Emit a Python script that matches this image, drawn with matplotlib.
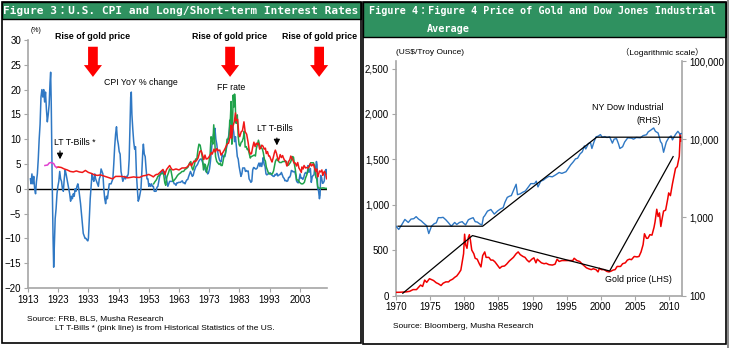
import matplotlib
matplotlib.use("Agg")
import matplotlib.pyplot as plt
from matplotlib.patches import Rectangle, FancyArrowPatch
from matplotlib.ticker import FuncFormatter, FixedLocator, NullLocator

W, H = 729, 348
NARROW = ['Liberation Sans Narrow', 'Liberation Sans', 'DejaVu Sans']
MONO = ['DejaVu Sans Mono', 'Noto Sans CJK JP']
plt.rcParams['font.family'] = NARROW

# ---------------- Figure 3 data ----------------
cpi_years = [1913.8, 1914.0, 1914.3, 1914.6, 1914.9, 1915.2, 1915.5, 1915.8, 1916.1, 1916.4, 1916.7, 1917.0, 1917.3,
             1917.6, 1917.9, 1918.2, 1918.5, 1918.8, 1919.1, 1919.4, 1919.7, 1920.0, 1920.3, 1920.5, 1920.7, 1921.0,
             1921.3, 1921.5, 1921.8, 1922.0, 1922.3, 1922.6, 1922.9, 1923.2, 1923.5, 1923.8, 1924.1, 1924.4, 1924.7,
             1925.0, 1925.3, 1925.6, 1925.9, 1926.2, 1926.5, 1926.8, 1927.1, 1927.4, 1927.7, 1928.0, 1928.3, 1928.6,
             1928.9, 1929.2, 1929.5, 1929.8, 1930.1, 1930.4, 1930.7, 1931.0, 1931.3, 1931.6, 1931.9, 1932.2, 1932.5,
             1932.8, 1933.0, 1933.3, 1933.6, 1933.9, 1934.2, 1934.5, 1934.8, 1935.1, 1935.4, 1935.7, 1936.0, 1936.3,
             1936.6, 1936.9, 1937.2, 1937.5, 1937.8, 1938.1, 1938.4, 1938.7, 1939.0, 1939.3, 1939.6, 1939.9, 1940.2,
             1940.5, 1940.8, 1941.1, 1941.4, 1941.7, 1942.0, 1942.3, 1942.6, 1942.9, 1943.2, 1943.5, 1943.8, 1944.1,
             1944.4, 1944.7, 1945.0, 1945.3, 1945.6, 1945.9, 1946.2, 1946.5, 1946.8, 1947.0, 1947.2, 1947.4, 1947.7,
             1948.0, 1948.3, 1948.6, 1948.9, 1949.2, 1949.5, 1949.8, 1950.1, 1950.4, 1950.7, 1951.0, 1951.2, 1951.5,
             1951.8, 1952.1, 1952.4, 1952.7, 1953.0, 1953.3, 1953.6, 1953.9, 1954.2, 1954.5, 1954.8, 1955.1, 1955.4,
             1955.7, 1956.0, 1956.3, 1956.6, 1956.9, 1957.2, 1957.5, 1957.8, 1958.1, 1958.4, 1958.7, 1959.0, 1959.3,
             1959.6, 1959.9, 1960.2, 1960.5, 1960.8, 1961.1, 1961.4, 1961.7, 1962.0, 1962.3, 1962.6, 1962.9, 1963.2,
             1963.5, 1963.8, 1964.1, 1964.4, 1964.7, 1965.0, 1965.3, 1965.6, 1965.9, 1966.2, 1966.5, 1966.8, 1967.1,
             1967.4, 1967.7, 1968.0, 1968.3, 1968.6, 1968.9, 1969.2, 1969.5, 1969.8, 1970.1, 1970.4, 1970.7, 1971.0,
             1971.3, 1971.6, 1971.9, 1972.2, 1972.5, 1972.8, 1973.1, 1973.4, 1973.7, 1974.0, 1974.3, 1974.6, 1974.9,
             1975.2, 1975.5, 1975.8, 1976.1, 1976.4, 1976.7, 1977.0, 1977.3, 1977.6, 1977.9, 1978.2, 1978.5, 1978.8,
             1979.1, 1979.4, 1979.7, 1980.0, 1980.25, 1980.5, 1980.8, 1981.1, 1981.4, 1981.7, 1982.0, 1982.3, 1982.6,
             1982.9, 1983.2, 1983.5, 1983.8, 1984.1, 1984.4, 1984.7, 1985.0, 1985.3, 1985.6, 1985.9, 1986.2, 1986.5,
             1986.8, 1987.1, 1987.4, 1987.7, 1988.0, 1988.3, 1988.6, 1988.9, 1989.2, 1989.5, 1989.8, 1990.1, 1990.4,
             1990.7, 1990.9, 1991.2, 1991.5, 1991.8, 1992.1, 1992.4, 1992.7, 1993.0, 1993.3, 1993.6, 1993.9, 1994.2,
             1994.5, 1994.8, 1995.1, 1995.4, 1995.7, 1996.0, 1996.3, 1996.6, 1996.9, 1997.2, 1997.5, 1997.8, 1998.1,
             1998.4, 1998.7, 1999.0, 1999.3, 1999.6, 1999.9, 2000.2, 2000.5, 2000.8, 2001.1, 2001.4, 2001.7, 2001.9,
             2002.2, 2002.5, 2002.8, 2003.1, 2003.4, 2003.7, 2004.0, 2004.3, 2004.6, 2004.9, 2005.2, 2005.5, 2005.75,
             2005.9, 2006.2, 2006.5, 2006.8, 2007.1, 2007.4, 2007.7, 2007.9, 2008.2, 2008.5, 2008.7, 2008.9, 2009.2,
             2009.5, 2009.7, 2009.9, 2010.2, 2010.5, 2010.8, 2011.1, 2011.4, 2011.7, 2011.9, 2012.2]
cpi_vals = [2.0, 1.0, 3.0, 1.0, 2.5, 0.0, -1.0, 1.5, 3.0, 6.0, 10.0, 13.0, 18.5,
            20.0, 18.5, 20.0, 17.5, 19.5, 16.0, 13.5, 15.0, 17.0, 21.5, 23.5, 17.0, 2.0,
            -10.0, -15.8, -10.0, -6.0, -4.0, -1.0, 0.5, 1.5, 3.5, 2.0, 1.5, 0.0, -0.5,
            2.0, 3.8, 3.0, 2.0, 1.0, 0.0, -1.0, -2.5, -1.5, -2.0, -1.0, -1.5, 0.0,
            -0.5, 0.5, 1.0, 0.0, -1.5, -3.0, -5.0, -7.0, -9.0, -9.5, -10.0, -10.0, -10.3,
            -10.5, -10.0, -6.0, -2.0, 0.5, 3.0, 2.0, 1.5, 3.0, 2.0, 1.5, 1.0, 0.5,
            2.0, 2.5, 4.0, 3.5, 3.0, 0.0, -2.0, -3.0, -1.5, -2.0, -0.5, 1.0, 1.0,
            1.0, 1.5, 2.0, 5.0, 8.5, 11.0, 12.5, 10.0, 9.0, 7.5, 7.0, 3.5, 2.5,
            1.5, 2.0, 2.5, 2.0, 2.5, 2.5, 3.0, 6.0, 14.0, 18.5, 19.5, 15.0, 12.0,
            9.5, 8.0, 8.5, 3.0, 0.0, -2.5, -2.0, -1.0, 0.0, 3.5, 7.5, 9.0, 7.0,
            6.5, 4.0, 2.0, 2.0, 0.5, 1.0, 0.5, 1.0, 0.5, 0.5, -0.5, -0.5, -0.5,
            0.3, 0.5, 1.5, 2.5, 3.0, 3.5, 3.5, 3.0, 3.5, 3.0, 2.0, 1.5, 0.5,
            1.0, 1.5, 1.5, 1.5, 1.5, 1.5, 1.0, 1.0, 0.7, 1.2, 1.2, 1.3, 1.3,
            1.3, 1.5, 1.6, 1.2, 1.2, 1.0, 1.5, 1.8, 1.9, 2.5, 3.0, 3.5, 3.0,
            2.5, 2.7, 3.5, 4.0, 4.5, 4.7, 5.0, 5.5, 5.8, 6.0, 6.0, 5.5, 5.0,
            4.5, 4.0, 3.5, 3.5, 3.0, 3.3, 4.0, 5.5, 7.5, 9.5, 10.5, 11.5, 12.2,
            10.0, 9.0, 7.5, 6.5, 5.8, 5.5, 5.5, 7.0, 6.5, 6.5, 6.5, 7.5, 8.5,
            9.5, 10.5, 12.0, 13.5, 14.8, 13.0, 12.5, 11.5, 9.5, 10.5, 8.5, 6.5, 6.0,
            4.5, 3.5, 2.5, 3.0, 4.2, 4.2, 4.2, 3.5, 3.7, 3.5, 3.6, 2.0, 1.7,
            1.3, 1.5, 3.8, 4.3, 4.2, 4.0, 4.0, 4.2, 4.8, 5.2, 4.5, 5.2, 4.5,
            5.5, 6.3, 4.9, 4.5, 3.0, 2.8, 3.0, 3.0, 3.2, 3.2, 2.8, 2.7, 2.5,
            2.5, 2.9, 2.8, 3.1, 2.6, 2.7, 2.9, 2.9, 3.3, 2.8, 2.3, 2.1, 1.6,
            1.7, 1.5, 1.6, 2.3, 2.3, 2.7, 3.7, 3.6, 3.4, 3.5, 3.3, 2.6, 1.6,
            1.3, 1.2, 2.0, 3.0, 2.1, 2.2, 1.9, 2.3, 3.0, 3.3, 3.1, 3.2, 4.7,
            3.4, 3.4, 4.1, 1.3, 2.4, 2.7, 2.8, 4.1, 4.0, 5.5, 4.9, 0.1, -0.4,
            -2.0, -1.3, 2.7, 2.3, 1.1, 1.2, 1.6, 3.6, 3.9, 3.0, 2.6]

ff_years = [1954.6, 1955.0, 1955.5, 1956.0, 1956.5, 1957.0, 1957.5, 1957.9, 1958.3, 1958.6, 1959.0, 1959.5, 1959.9,
            1960.3, 1960.7, 1961.0, 1961.5, 1962.0, 1962.5, 1963.0, 1963.5, 1964.0, 1964.5, 1965.0, 1965.5, 1966.0,
            1966.5, 1966.9, 1967.3, 1967.6, 1968.0, 1968.5, 1968.9, 1969.3, 1969.6, 1970.0, 1970.4, 1970.8, 1971.1,
            1971.5, 1971.8, 1972.1, 1972.5, 1972.9, 1973.3, 1973.6, 1973.9, 1974.2, 1974.5, 1974.8, 1975.1, 1975.5,
            1975.9, 1976.3, 1976.7, 1976.9, 1977.3, 1977.7, 1977.9, 1978.3, 1978.6, 1978.9, 1979.3, 1979.6, 1979.8,
            1980.0, 1980.25, 1980.5, 1980.8, 1980.95, 1981.2, 1981.4, 1981.6, 1981.8, 1982.0, 1982.3, 1982.6, 1982.9,
            1983.2, 1983.6, 1983.9, 1984.3, 1984.6, 1984.9, 1985.3, 1985.6, 1985.9, 1986.3, 1986.6, 1986.9, 1987.3,
            1987.6, 1987.9, 1988.3, 1988.6, 1988.9, 1989.3, 1989.6, 1989.9, 1990.3, 1990.6, 1990.9, 1991.3, 1991.6,
            1991.9, 1992.3, 1992.6, 1992.9, 1993.3, 1993.6, 1993.9, 1994.3, 1994.6, 1994.9, 1995.3, 1995.6, 1995.9,
            1996.3, 1996.6, 1996.9, 1997.3, 1997.6, 1997.9, 1998.3, 1998.6, 1998.9, 1999.3, 1999.6, 1999.9, 2000.3,
            2000.5, 2000.9, 2001.2, 2001.5, 2001.8, 2001.95, 2002.5, 2002.9, 2003.5, 2004.0, 2004.5, 2004.9, 2005.3,
            2005.6, 2005.9, 2006.3, 2006.6, 2007.0, 2007.5, 2007.8, 2008.0, 2008.3, 2008.6, 2008.9, 2009.2, 2009.6,
            2010.0, 2010.5, 2011.0, 2011.5, 2012.0, 2012.2]
ff_vals = [1.0, 1.4, 1.8, 2.5, 2.7, 3.0, 3.1, 3.0, 1.2, 0.7, 2.4, 3.2, 4.0,
           3.8, 2.5, 1.5, 1.8, 2.2, 2.7, 3.0, 3.2, 3.5, 3.5, 3.9, 4.1, 4.4,
           5.2, 5.5, 4.2, 3.8, 4.6, 6.0, 6.0, 8.0, 9.0, 8.8, 7.5, 6.0, 3.8,
           5.0, 4.7, 3.3, 4.5, 5.3, 7.0, 10.5, 10.0, 9.0, 12.9, 10.0, 6.5, 5.5,
           5.2, 4.9, 5.2, 4.7, 4.7, 5.9, 6.6, 7.0, 8.0, 10.0, 10.0, 10.9, 13.8,
           14.0, 17.6, 9.0, 15.0, 18.9, 16.5, 19.1, 17.8, 13.3, 13.2, 14.9, 10.5, 8.9,
           8.6, 9.4, 9.5, 10.3, 11.6, 8.4, 8.5, 7.9, 8.0, 7.0, 6.2, 6.5, 6.6,
           6.7, 6.8, 6.6, 8.1, 8.8, 9.8, 9.0, 8.5, 8.2, 8.0, 7.3, 5.9, 5.6,
           4.4, 3.7, 3.2, 3.0, 3.0, 3.0, 3.0, 3.6, 4.5, 5.5, 6.0, 5.8, 5.6,
           5.3, 5.3, 5.3, 5.5, 5.5, 5.5, 5.5, 5.5, 4.7, 4.8, 5.1, 5.3, 6.0,
           6.5, 6.4, 5.0, 3.9, 2.5, 1.8, 1.75, 1.3, 1.0, 1.0, 1.3, 2.2, 2.8,
           3.5, 4.2, 4.8, 5.25, 5.25, 5.25, 4.8, 3.9, 2.3, 2.0, 0.5, 0.15, 0.15,
           0.12, 0.18, 0.17, 0.09, 0.08, 0.12]

pink_years = [1918.6, 1919.5, 1920.0, 1920.5, 1921.0, 1921.5, 1922.0, 1922.5]
pink_vals = [4.7, 4.8, 5.2, 5.3, 5.2, 5.1, 4.5, 4.3]

lt_years = [1922.5, 1923.0, 1924.0, 1925.0, 1926.0, 1927.0, 1928.0, 1929.0, 1930.0, 1931.0, 1932.0, 1933.0, 1934.0,
            1935.0, 1936.0, 1937.0, 1938.0, 1939.0, 1940.0, 1941.0, 1942.0, 1943.0, 1944.0, 1945.0, 1946.0, 1947.0,
            1948.0, 1949.0, 1950.0, 1951.0, 1952.0, 1953.0, 1954.0, 1954.5, 1955.0, 1955.5, 1956.0, 1956.5, 1957.0,
            1957.7, 1958.3, 1958.9, 1959.5, 1959.9, 1960.5, 1961.0, 1961.5, 1962.0, 1962.5, 1963.0, 1963.5, 1964.0,
            1964.5, 1965.0, 1965.5, 1966.0, 1966.7, 1967.1, 1967.6, 1968.0, 1968.5, 1968.9, 1969.3, 1969.9, 1970.3,
            1970.8, 1971.2, 1971.6, 1972.0, 1972.5, 1972.9, 1973.4, 1973.7, 1974.0, 1974.6, 1975.0, 1975.5, 1976.0,
            1976.5, 1976.9, 1977.5, 1977.9, 1978.4, 1978.9, 1979.4, 1979.9, 1980.2, 1980.4, 1980.9, 1981.3, 1981.7,
            1981.9, 1982.4, 1982.8, 1983.1, 1983.6, 1984.0, 1984.5, 1984.9, 1985.4, 1985.9, 1986.3, 1986.7, 1987.0,
            1987.4, 1987.8, 1988.2, 1988.6, 1988.9, 1989.3, 1989.7, 1990.0, 1990.4, 1990.8, 1991.2, 1991.6, 1991.9,
            1992.3, 1992.7, 1993.0, 1993.5, 1993.8, 1994.2, 1994.6, 1994.9, 1995.3, 1995.6, 1995.9, 1996.2, 1996.5,
            1996.9, 1997.3, 1997.6, 1997.9, 1998.3, 1998.7, 1998.9, 1999.3, 1999.7, 2000.0, 2000.4, 2000.8, 2001.1,
            2001.5, 2001.9, 2002.3, 2002.7, 2003.0, 2003.5, 2003.7, 2004.1, 2004.4, 2004.9, 2005.3, 2005.7, 2006.1,
            2006.5, 2006.9, 2007.4, 2007.7, 2007.9, 2008.3, 2008.6, 2008.9, 2009.2, 2009.5, 2009.9, 2010.3, 2010.6,
            2010.9, 2011.2, 2011.6, 2011.9, 2012.2]
lt_vals = [4.3, 4.4, 4.3, 4.0, 3.8, 3.5, 3.4, 3.6, 3.4, 3.3, 3.7, 3.3, 3.1,
           2.8, 2.7, 2.8, 2.6, 2.4, 2.2, 2.0, 2.5, 2.5, 2.5, 2.4, 2.2, 2.3,
           2.4, 2.3, 2.3, 2.6, 2.7, 2.9, 2.6, 2.4, 2.7, 2.9, 2.9, 3.2, 3.5,
           3.9, 2.9, 3.9, 4.4, 4.7, 4.0, 3.8, 3.9, 4.0, 3.9, 3.8, 4.0, 4.2,
           4.2, 4.2, 4.3, 4.6, 5.2, 4.6, 5.2, 5.6, 5.5, 5.8, 6.2, 7.5, 7.7,
           6.8, 5.9, 6.8, 6.0, 6.1, 6.4, 6.9, 7.3, 7.0, 8.0, 7.4, 8.1, 7.7,
           7.8, 6.8, 7.3, 7.7, 8.3, 9.0, 9.2, 10.4, 12.8, 10.2, 12.7, 13.5, 15.3,
           13.7, 14.0, 11.0, 10.5, 11.5, 11.7, 13.5, 11.5, 11.0, 9.3, 7.5, 7.0, 7.1,
           8.4, 9.4, 8.5, 9.2, 9.0, 9.2, 8.0, 8.2, 8.8, 8.6, 8.0, 8.2, 7.1,
           7.5, 6.6, 6.6, 5.8, 5.4, 6.3, 7.3, 7.8, 7.1, 6.3, 5.7, 6.2, 6.9,
           6.3, 6.7, 6.2, 5.8, 5.6, 4.6, 4.7, 5.5, 5.9, 6.6, 6.2, 5.6, 5.2,
           5.2, 4.6, 5.3, 4.2, 3.9, 3.3, 4.4, 4.0, 4.7, 4.2, 4.3, 4.2, 4.5,
           5.1, 4.6, 5.0, 4.6, 4.1, 3.5, 4.0, 2.4, 2.9, 3.6, 3.4, 3.8, 2.7,
           3.3, 3.5, 2.9, 2.0, 2.2]

fig3_yticks = [30, 25, 20, 15, 10, 5, 0, -5, -10, -15, -20]
fig3_xticks = [1913, 1923, 1933, 1943, 1953, 1963, 1973, 1983, 1993, 2003]
gold_rise_years = [1934.5, 1979.9, 2009.4]

# ---------------- Figure 4 data ----------------
gold_years = [1970.0, 1970.5, 1971.0, 1971.5, 1972.0, 1972.5, 1973.0, 1973.3, 1973.6, 1973.9, 1974.2, 1974.5, 1974.9,
              1975.2, 1975.5, 1975.9, 1976.2, 1976.6, 1976.9, 1977.3, 1977.7, 1977.9, 1978.3, 1978.6, 1978.9, 1979.2,
              1979.5, 1979.75, 1979.9, 1980.05, 1980.2, 1980.4, 1980.6, 1980.75, 1980.9, 1981.1, 1981.4, 1981.6,
              1981.9, 1982.2, 1982.45, 1982.7, 1983.0, 1983.2, 1983.6, 1983.9, 1984.2, 1984.5, 1984.9, 1985.2, 1985.5,
              1985.9, 1986.2, 1986.6, 1986.9, 1987.2, 1987.6, 1987.9, 1988.2, 1988.6, 1988.9, 1989.2, 1989.5, 1989.9,
              1990.2, 1990.5, 1990.7, 1991.0, 1991.3, 1991.7, 1992.0, 1992.4, 1992.9, 1993.3, 1993.6, 1993.9, 1994.3,
              1994.6, 1994.9, 1995.3, 1995.6, 1995.9, 1996.1, 1996.5, 1996.9, 1997.3, 1997.6, 1997.9, 1998.2, 1998.6,
              1998.9, 1999.3, 1999.6, 1999.8, 2000.1, 2000.5, 2000.9, 2001.2, 2001.5, 2001.8, 2002.1, 2002.4, 2002.9,
              2003.2, 2003.6, 2003.9, 2004.2, 2004.5, 2004.9, 2005.3, 2005.6, 2005.9, 2006.2, 2006.4, 2006.7, 2006.9,
              2007.2, 2007.5, 2007.8, 2007.95, 2008.2, 2008.4, 2008.6, 2008.8, 2009.0, 2009.2, 2009.5, 2009.8, 2009.95,
              2010.2, 2010.5, 2010.8, 2010.95, 2011.2, 2011.5, 2011.65, 2011.8]
gold_vals = [35, 35.5, 38, 40, 46, 65, 65, 90, 115, 100, 170, 145, 185,
             175, 165, 140, 130, 110, 135, 150, 150, 165, 180, 200, 215, 245,
             280, 390, 460, 675, 560, 520, 640, 670, 610, 500, 460, 410,
             400, 350, 315, 440, 480, 420, 420, 390, 390, 370, 330, 300, 320,
             325, 345, 380, 400, 420, 460, 480, 450, 430, 420, 390, 370, 400,
             415, 360, 400, 380, 360, 350, 355, 340, 335, 345, 400, 375, 385,
             385, 385, 385, 385, 385, 410, 385, 375, 345, 325, 305, 295, 285,
             295, 285, 260, 300, 285, 285, 265, 260, 268, 280, 285, 320, 320,
             350, 360, 390, 400, 395, 430, 425, 430, 480, 560, 680, 630, 630,
             670, 665, 750, 810, 950, 870, 910, 760, 850, 930, 940, 1060, 1130,
             1100, 1230, 1340, 1400, 1420, 1530, 1780, 1700]

dow_years = [1970.0, 1970.4, 1970.9, 1971.3, 1971.8, 1972.2, 1972.6, 1972.95, 1973.3, 1973.7, 1974.0, 1974.5, 1974.8,
             1975.2, 1975.6, 1975.9, 1976.2, 1976.6, 1976.9, 1977.3, 1977.7, 1978.1, 1978.6, 1978.9, 1979.3, 1979.7,
             1979.9, 1980.2, 1980.6, 1980.9, 1981.3, 1981.6, 1981.9, 1982.3, 1982.6, 1982.8, 1983.0, 1983.4, 1983.9,
             1984.4, 1984.9, 1985.3, 1985.7, 1985.95, 1986.3, 1986.6, 1986.9, 1987.3, 1987.6, 1987.8, 1988.2, 1988.6,
             1988.95, 1989.4, 1989.75, 1990.3, 1990.55, 1990.8, 1991.2, 1991.6, 1991.95, 1992.4, 1992.9, 1993.4,
             1993.9, 1994.3, 1994.9, 1995.3, 1995.6, 1995.95, 1996.3, 1996.6, 1996.95, 1997.3, 1997.6, 1997.8, 1998.2,
             1998.5, 1998.7, 1999.0, 1999.3, 1999.6, 1999.95, 2000.2, 2000.6, 2000.9, 2001.3, 2001.7, 2001.95, 2002.3,
             2002.6, 2002.8, 2003.2, 2003.5, 2003.95, 2004.5, 2004.8, 2005.2, 2005.8, 2006.2, 2006.7, 2006.95, 2007.3,
             2007.75, 2008.0, 2008.4, 2008.75, 2008.95, 2009.2, 2009.6, 2009.95, 2010.3, 2010.5, 2010.95, 2011.3,
             2011.6, 2011.8]
dow_vals = [770, 700, 820, 940, 860, 950, 960, 1020, 950, 900, 850, 780, 620,
            770, 830, 850, 990, 990, 1000, 930, 850, 770, 860, 810, 860, 880,
            840, 800, 930, 960, 990, 880, 870, 820, 800, 1000, 1050, 1200, 1260,
            1100, 1210, 1280, 1330, 1550, 1800, 1860, 1900, 2300, 2650, 1950, 2000, 2100,
            2170, 2450, 2700, 2700, 2900, 2450, 2900, 3000, 3170, 3350, 3300, 3500,
            3750, 3650, 3830, 4300, 4700, 5100, 5600, 5700, 6450, 6900, 8200, 7500, 8800,
            9000, 7600, 9200, 10700, 10900, 11450, 10600, 10800, 10500, 10700, 8900, 10000, 10200,
            8700, 7600, 8000, 9200, 10400, 10300, 10000, 10500, 10400, 11100, 11400, 12400, 13000,
            13900, 12600, 12000, 9300, 8800, 6800, 9200, 10400, 11000, 9800, 11500, 12600,
            11600, 11800]

dow_trend_years = [1970.3, 1982.7, 1999.4, 2011.7]
dow_trend_vals = [770, 770, 10600, 10600]
gold_trend_years = [1971.0, 1981.2, 2001.3, 2010.6]
gold_trend_vals = [25, 660, 270, 1530]

fig4_left_ticks = [0, 500, 1000, 1500, 2000, 2500]
fig4_right_ticks = [100, 1000, 10000, 100000]
fig4_xticks = [1970, 1975, 1980, 1985, 1990, 1995, 2000, 2005, 2010]

# ---------------- helpers ----------------
def fx(x):
    return x / W

def fy(y):
    return 1 - y / H

GREEN = '#2F9160'
GREY = '#A6A6A6'
BLUE = '#2F78C4'

fig = plt.figure(figsize=(W / 100, H / 100), dpi=100)
fig.patch.set_facecolor('white')

# panel frames and title bars
for (x0, x1, y0, y1, tb) in [(2, 361, 2, 343, 19), (363, 726, 2, 344, 37)]:
    fig.patches.append(Rectangle((fx(x0), fy(tb)), fx(x1 - x0), (tb - y0) / H, transform=fig.transFigure,
                                 facecolor=GREEN, edgecolor='black', lw=1.0, zorder=0))
    fig.patches.append(Rectangle((fx(x0), fy(y1)), fx(x1 - x0), (y1 - y0) / H, transform=fig.transFigure,
                                 facecolor='none', edgecolor='black', lw=1.2, zorder=5))
fig.patches.append(Rectangle((fx(727), 0), fx(2), 1, transform=fig.transFigure,
                             facecolor='#8C8C8C', edgecolor='none', zorder=0))

fig.text(fx(181), fy(10.5), 'Figure 3：U.S. CPI and Long/Short-term Interest Rates', color='white',
         fontsize=8.0, fontweight='bold', family=MONO, ha='center', va='center')
fig.text(fx(369), fy(11), 'Figure 4：Figure 4 Price of Gold and Dow Jones Industrial', color='white',
         fontsize=7.3, fontweight='bold', family=MONO, ha='left', va='center')
fig.text(fx(427), fy(29), 'Average', color='white',
         fontsize=7.3, fontweight='bold', family=MONO, ha='left', va='center')

# ---------------- Figure 3 ----------------
ax = fig.add_axes([fx(28), fy(288), fx(327 - 28), (288 - 40) / H])
ax.set_facecolor('none')
ax.plot(cpi_years, cpi_vals, color=BLUE, lw=1.1, zorder=3)
ax.plot(ff_years, ff_vals, color='#1FA24A', lw=1.1, zorder=4)
ax.plot(lt_years, lt_vals, color='#F01818', lw=1.1, zorder=5)
ax.plot(pink_years, pink_vals, color='#E040D0', lw=1.1, zorder=5)
ax.axhline(0, color='black', lw=1.0, zorder=2)
ax.set_xlim(1913, 2012)
ax.set_ylim(-20, 30)
ax.set_yticks(fig3_yticks)
ax.set_xticks(fig3_xticks)
ax.set_xticklabels([str(v) for v in fig3_xticks])
for s in ['top', 'right']:
    ax.spines[s].set_visible(False)
for s in ['left', 'bottom']:
    ax.spines[s].set_color(GREY)
    ax.spines[s].set_linewidth(1.2)
ax.tick_params(axis='both', direction='out', length=3, width=0.8, color=GREY, labelsize=7, pad=2)

for xr in gold_rise_years:
    ax.text(xr, 30.8, 'Rise of gold price', ha='center', va='center', fontsize=6.4, fontweight='bold')
    ax.add_patch(FancyArrowPatch((xr, 29.2), (xr, 22.0), arrowstyle='simple,head_length=8.5,head_width=13,tail_width=7',
                                 mutation_scale=1, color='#FF0000', lw=0, zorder=6, clip_on=False))
ax.text(1938.2, 21.5, 'CPI YoY % change', ha='left', va='center', fontsize=6.3)
ax.text(1975.6, 20.4, 'FF rate', ha='left', va='center', fontsize=6.3)
ax.text(1921.6, 9.3, 'LT T-Bills *', ha='left', va='center', fontsize=6.3)
ax.text(1988.8, 12.1, 'LT T-Bills', ha='left', va='center', fontsize=6.3)
ax.annotate('', xy=(1923.6, 5.4), xytext=(1923.6, 8.2),
            arrowprops=dict(arrowstyle='-|>,head_length=0.35,head_width=0.18', color='black', lw=0.8))
ax.annotate('', xy=(1995.4, 8.2), xytext=(1995.4, 10.8),
            arrowprops=dict(arrowstyle='-|>,head_length=0.35,head_width=0.18', color='black', lw=0.8))

fig.text(fx(31), fy(31), '(%)', fontsize=5, ha='left', va='center')
fig.text(fx(27), fy(319), 'Source: FRB, BLS, Musha Research', fontsize=6, ha='left', va='center')
fig.text(fx(55), fy(329), 'LT T-Bills * (pink line) is from Historical Statistics of the US.', fontsize=6,
         ha='left', va='center')

# ---------------- Figure 4 ----------------
axr = fig.add_axes([fx(396), fy(295.5), fx(682 - 396), (295.5 - 61) / H])
axr.set_facecolor('none')
axr.plot(gold_years, gold_vals, color='#F00000', lw=1.1, zorder=3)
axr.plot(gold_trend_years, gold_trend_vals, color='black', lw=0.9, zorder=4)
axr.set_xlim(1970, 2011.9)
axr.set_ylim(0, 2583)
axr.yaxis.set_major_locator(FixedLocator(fig4_left_ticks))
axr.yaxis.set_major_formatter(FuncFormatter(lambda v, p: f'{int(v):,}'))
axr.set_xticks(fig4_xticks)
axr.set_xticklabels([str(v) for v in fig4_xticks])

ax2 = axr.twinx()
ax2.set_yscale('log')
ax2.plot(dow_years, dow_vals, color=BLUE, lw=1.0, zorder=3)
ax2.plot(dow_trend_years, dow_trend_vals, color='black', lw=0.9, zorder=4)
ax2.set_ylim(100, 100000)
ax2.yaxis.set_major_locator(FixedLocator(fig4_right_ticks))
ax2.yaxis.set_minor_locator(NullLocator())
ax2.yaxis.set_major_formatter(FuncFormatter(lambda v, p: f'{int(round(v)):,}'))

for a in (axr, ax2):
    a.spines['top'].set_visible(False)
    for s in ['left', 'right', 'bottom']:
        a.spines[s].set_color(GREY)
        a.spines[s].set_linewidth(1.2)
    a.tick_params(axis='both', direction='out', length=3, width=0.8, color=GREY, labelsize=7, pad=2)
axr.spines['right'].set_visible(False)
ax2.spines['left'].set_visible(False)
ax2.spines['bottom'].set_visible(False)

fig.text(fx(396), fy(53), '(US$/Troy Ounce)', fontsize=6, ha='left', va='center')
fig.text(fx(662), fy(52), '（Logarithmic scale）', fontsize=6, ha='center', va='center',
         family=NARROW + ['Noto Sans CJK JP'])
fig.text(fx(628), fy(108), 'NY Dow Industrial', fontsize=6.4, ha='center', va='center')
fig.text(fx(649), fy(121), '(RHS)', fontsize=6.4, ha='center', va='center')
fig.text(fx(638), fy(280), 'Gold price (LHS)', fontsize=6.4, ha='center', va='center')
fig.text(fx(393), fy(327), 'Source: Bloomberg, Musha Research', fontsize=6, ha='left', va='center')

fig.savefig('out.png', dpi=100, facecolor='white')
